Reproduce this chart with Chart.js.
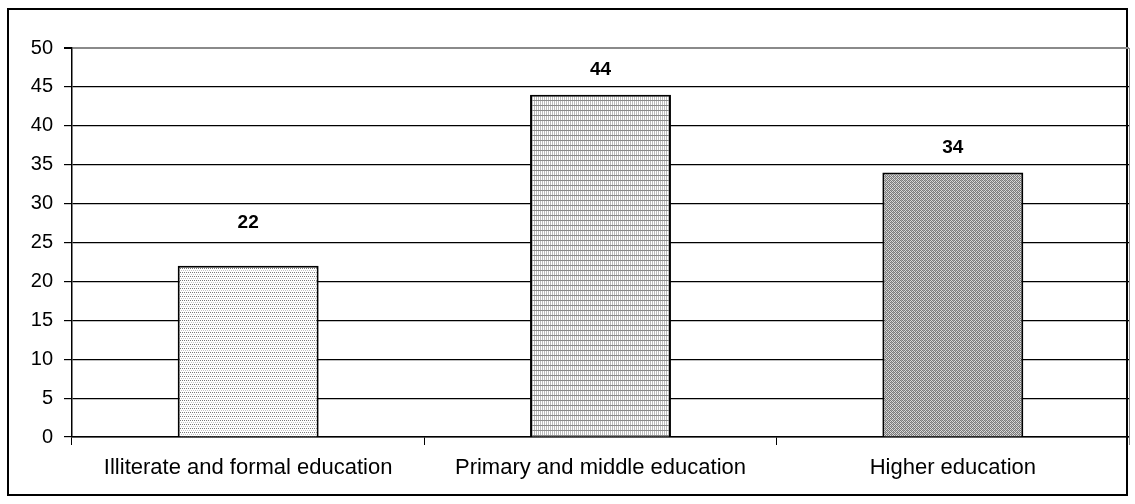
<!DOCTYPE html>
<html>
<head>
<meta charset="utf-8">
<script src="https://cdn.jsdelivr.net/npm/chart.js@4"></script>
<style>
  html, body { margin: 0; padding: 0; background: #fff; }
  #wrap { width: 1135px; height: 504px; }
</style>
</head>
<body>
<div id="wrap"><canvas id="eduChart" width="1135" height="504"></canvas></div>
<script>
var categories = ['Illiterate and formal education', 'Primary and middle education', 'Higher education'];
var values = [22, 44, 34];
var yTicks = [0, 5, 10, 15, 20, 25, 30, 35, 40, 45, 50];
var labelOffsets = [43, 25, 25];

function makePattern(w, h, draw) {
    var c = document.createElement('canvas');
    c.width = w; c.height = h;
    var g = c.getContext('2d');
    g.fillStyle = '#fff';
    g.fillRect(0, 0, w, h);
    draw(g);
    return document.getElementById('eduChart').getContext('2d').createPattern(c, 'repeat');
}

// dotted rows
var pat1 = makePattern(4, 4, function(g) {
    g.fillStyle = '#7a7a7a';
    g.fillRect(0, 0, 1, 1); g.fillRect(2, 0, 1, 1);
    g.fillStyle = '#c4c4c4';
    g.fillRect(1, 2, 1, 1); g.fillRect(3, 2, 1, 1);
});
// fine vertical lines + horizontal lines
var pat2 = makePattern(2, 5, function(g) {
    g.fillStyle = '#bdbdbd';
    g.fillRect(0, 0, 1, 5);
    g.fillStyle = '#8a8a8a';
    g.fillRect(0, 0, 2, 1);
});
// checker gray
var pat3 = makePattern(4, 4, function(g) {
    g.fillStyle = '#d8d8d8';
    g.fillRect(0, 0, 4, 4);
    g.fillStyle = '#7a7a7a';
    g.fillRect(0, 0, 1, 1); g.fillRect(2, 0, 1, 1);
    g.fillRect(1, 1, 1, 1); g.fillRect(3, 1, 1, 1);
    g.fillRect(0, 2, 1, 1); g.fillRect(2, 2, 1, 1);
    g.fillRect(1, 3, 1, 1); g.fillRect(3, 3, 1, 1);
    g.fillStyle = '#a8a8a8';
    g.fillRect(1, 0, 1, 1); g.fillRect(3, 2, 1, 1);
});

var frame = {
    id: 'frame',
    beforeDraw: function(chart) {
        var ctx = chart.ctx;
        ctx.save();
        ctx.strokeStyle = '#000';
        ctx.lineWidth = 2;
        ctx.strokeRect(8, 9, 1119, 486);
        ctx.restore();
    },
    afterDatasetsDraw: function(chart) {
        var ctx = chart.ctx;
        var a = chart.chartArea;
        ctx.save();
        ctx.strokeStyle = '#8a8a8a';
        ctx.lineWidth = 1;
        ctx.beginPath();
        ctx.moveTo(a.right + 0.5, a.top);
        ctx.lineTo(a.right + 0.5, a.bottom + 8);
        ctx.stroke();
        ctx.fillStyle = '#000';
        ctx.font = 'bold 19px "Liberation Sans", Arial, sans-serif';
        ctx.textAlign = 'center';
        ctx.textBaseline = 'middle';
        chart.getDatasetMeta(0).data.forEach(function(bar, i) {
            ctx.fillText(values[i], bar.x, bar.y - labelOffsets[i]);
        });
        ctx.restore();
    }
};

new Chart(document.getElementById('eduChart'), {
    type: 'bar',
    data: {
        labels: categories,
        datasets: [{
            data: values,
            backgroundColor: [pat1, pat2, pat3],
            borderColor: '#000',
            borderWidth: 2,
            barPercentage: 0.4,
            categoryPercentage: 1
        }]
    },
    options: {
        responsive: false,
        animation: false,
        layout: { padding: { left: 8, top: 48, right: 6, bottom: 7 } },
        plugins: { legend: { display: false }, tooltip: { enabled: false } },
        scales: {
            x: {
                afterFit: function(s) { s.height = 60; },
                grid: { offset: true, drawOnChartArea: false, color: '#000', tickLength: 8 },
                border: { color: '#000', width: 1.5 },
                ticks: { color: '#000', padding: 10, font: { family: '"Liberation Sans", Arial, sans-serif', size: 22 } }
            },
            y: {
                min: 0, max: 50,
                afterFit: function(s) { s.width = 64; },
                afterBuildTicks: function(s) { s.ticks = yTicks.map(function(v) { return { value: v }; }); },
                grid: {
                    color: function(c) { return c.tick && c.tick.value === 50 ? '#8a8a8a' : '#000'; },
                    lineWidth: function(c) { return c.tick && c.tick.value === 50 ? 2 : 1.2; },
                    tickColor: '#000',
                    tickLength: 8
                },
                border: { color: '#000', width: 1.5 },
                ticks: { color: '#000', padding: 11, font: { family: '"Liberation Sans", Arial, sans-serif', size: 20 } }
            }
        }
    },
    plugins: [frame]
});
</script>
</body>
</html>
